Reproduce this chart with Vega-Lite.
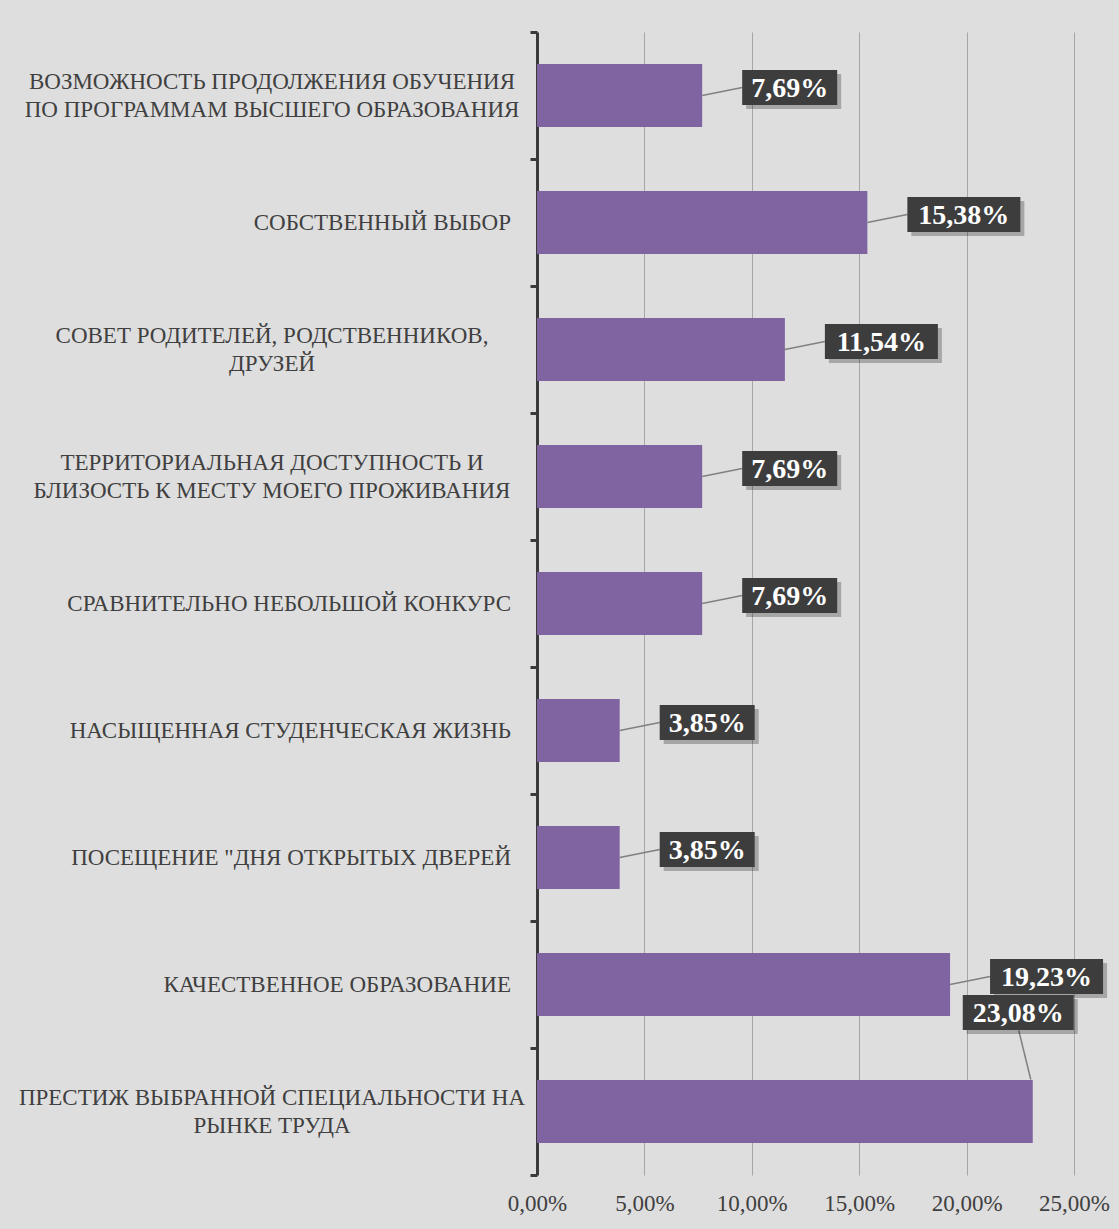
{
  "$schema": "https://vega.github.io/schema/vega-lite/v6.json",
  "autosize": "none",
  "width": 537,
  "height": 1143,
  "padding": {"left": 537, "top": 32, "right": 45, "bottom": 54},
  "background": "#dedede",
  "config": {
    "view": {"stroke": null},
    "locale": {"number": {"decimal": ",", "thousands": " ", "grouping": [3], "currency": ["", " ₽"]}}
  },
  "data": {
    "values": [
      {"cat": "ВОЗМОЖНОСТЬ ПРОДОЛЖЕНИЯ ОБУЧЕНИЯ|ПО ПРОГРАММАМ ВЫСШЕГО ОБРАЗОВАНИЯ", "v": 0.0769},
      {"cat": "СОБСТВЕННЫЙ ВЫБОР", "v": 0.1538},
      {"cat": "СОВЕТ РОДИТЕЛЕЙ, РОДСТВЕННИКОВ,|ДРУЗЕЙ", "v": 0.1154},
      {"cat": "ТЕРРИТОРИАЛЬНАЯ ДОСТУПНОСТЬ И|БЛИЗОСТЬ К МЕСТУ МОЕГО ПРОЖИВАНИЯ", "v": 0.0769},
      {"cat": "СРАВНИТЕЛЬНО НЕБОЛЬШОЙ КОНКУРС", "v": 0.0769},
      {"cat": "НАСЫЩЕННАЯ СТУДЕНЧЕСКАЯ ЖИЗНЬ", "v": 0.0385},
      {"cat": "ПОСЕЩЕНИЕ \"ДНЯ ОТКРЫТЫХ ДВЕРЕЙ", "v": 0.0385},
      {"cat": "КАЧЕСТВЕННОЕ ОБРАЗОВАНИЕ", "v": 0.1923},
      {"cat": "ПРЕСТИЖ ВЫБРАННОЙ СПЕЦИАЛЬНОСТИ НА|РЫНКЕ ТРУДА", "v": 0.2308}
    ]
  },
  "encoding": {
    "y": {
      "field": "cat", "type": "nominal", "sort": null,
      "scale": {"paddingInner": 0, "paddingOuter": 0},
      "axis": {
        "title": null, "labels": false,
        "domainColor": "#3a3a3a", "domainWidth": 3,
        "tickColor": "#3a3a3a", "tickWidth": 3, "tickSize": 7, "tickBand": "extent"
      }
    },
    "x": {
      "field": "v", "type": "quantitative",
      "scale": {"domain": [0, 0.25], "nice": false},
      "axis": {
        "title": null, "format": ".2%",
        "values": [0, 0.05, 0.1, 0.15, 0.2, 0.25],
        "domain": false, "ticks": false, "grid": true,
        "gridColor": "#a6a6a6", "gridWidth": 1, "labelFlush": false,
        "labelFont": "Liberation Serif", "labelFontSize": 23, "labelColor": "#404040",
        "labelPadding": 17
      }
    }
  },
  "layer": [
    {"mark": {"type": "bar", "color": "#8064A2", "height": 63}},
    {
      "mark": {
        "type": "text", "font": "Liberation Serif", "fontSize": 23, "color": "#404040",
        "lineBreak": "|", "lineHeight": 28, "baseline": "middle",
        "align": {"expr": "indexof(datum.cat, '|') >= 0 ? 'center' : 'right'"},
        "dx": {"expr": "indexof(datum.cat, '|') >= 0 ? -265 : -26"},
        "dy": {"expr": "indexof(datum.cat, '|') >= 0 ? -14 : 0"}
      },
      "encoding": {
        "x": {"datum": 0, "type": "quantitative"},
        "text": {"field": "cat", "type": "nominal"}
      }
    },
    {
      "transform": [{"filter": "datum.v < 0.22"}],
      "mark": {"type": "rule", "color": "#808080", "strokeWidth": 1.5, "x2Offset": 40, "y2Offset": -8},
      "encoding": {"x2": {"field": "v"}, "y2": {"field": "cat"}}
    },
    {
      "transform": [{"filter": "datum.v >= 0.22"}],
      "mark": {"type": "rule", "color": "#808080", "strokeWidth": 1.5, "xOffset": -2, "yOffset": -32, "x2Offset": -14, "y2Offset": -81},
      "encoding": {"x2": {"field": "v"}, "y2": {"field": "cat"}}
    },
    {
      "transform": [{"filter": "datum.v < 0.1"}],
      "mark": {"type": "bar", "color": "#000000", "opacity": 0.25, "height": 35, "xOffset": 44, "x2Offset": 139, "yOffset": -4},
      "encoding": {"x2": {"field": "v"}}
    },
    {
      "transform": [{"filter": "datum.v < 0.1"}],
      "mark": {"type": "bar", "color": "#3d3d3d", "height": 35, "xOffset": 40, "x2Offset": 135, "yOffset": -8},
      "encoding": {"x2": {"field": "v"}}
    },
    {
      "transform": [{"filter": "datum.v < 0.1"}],
      "mark": {"type": "text", "color": "#ffffff", "font": "Liberation Serif", "fontWeight": "bold", "fontSize": 28, "align": "center", "baseline": "middle", "xOffset": 87.5, "yOffset": -7},
      "encoding": {"text": {"field": "v", "type": "quantitative", "format": ".2%"}}
    },
    {
      "transform": [{"filter": "datum.v >= 0.1 && datum.v < 0.22"}],
      "mark": {"type": "bar", "color": "#000000", "opacity": 0.25, "height": 35, "xOffset": 44, "x2Offset": 157, "yOffset": -4},
      "encoding": {"x2": {"field": "v"}}
    },
    {
      "transform": [{"filter": "datum.v >= 0.1 && datum.v < 0.22"}],
      "mark": {"type": "bar", "color": "#3d3d3d", "height": 35, "xOffset": 40, "x2Offset": 153, "yOffset": -8},
      "encoding": {"x2": {"field": "v"}}
    },
    {
      "transform": [{"filter": "datum.v >= 0.1 && datum.v < 0.22"}],
      "mark": {"type": "text", "color": "#ffffff", "font": "Liberation Serif", "fontWeight": "bold", "fontSize": 28, "align": "center", "baseline": "middle", "xOffset": 96.5, "yOffset": -7},
      "encoding": {"text": {"field": "v", "type": "quantitative", "format": ".2%"}}
    },
    {
      "transform": [{"filter": "datum.v >= 0.22"}],
      "mark": {"type": "bar", "color": "#000000", "opacity": 0.25, "height": 35, "xOffset": -66, "x2Offset": 45, "yOffset": -95},
      "encoding": {"x2": {"field": "v"}}
    },
    {
      "transform": [{"filter": "datum.v >= 0.22"}],
      "mark": {"type": "bar", "color": "#3d3d3d", "height": 35, "xOffset": -70, "x2Offset": 41, "yOffset": -99},
      "encoding": {"x2": {"field": "v"}}
    },
    {
      "transform": [{"filter": "datum.v >= 0.22"}],
      "mark": {"type": "text", "color": "#ffffff", "font": "Liberation Serif", "fontWeight": "bold", "fontSize": 28, "align": "center", "baseline": "middle", "xOffset": -14.5, "yOffset": -98},
      "encoding": {"text": {"field": "v", "type": "quantitative", "format": ".2%"}}
    }
  ]
}
